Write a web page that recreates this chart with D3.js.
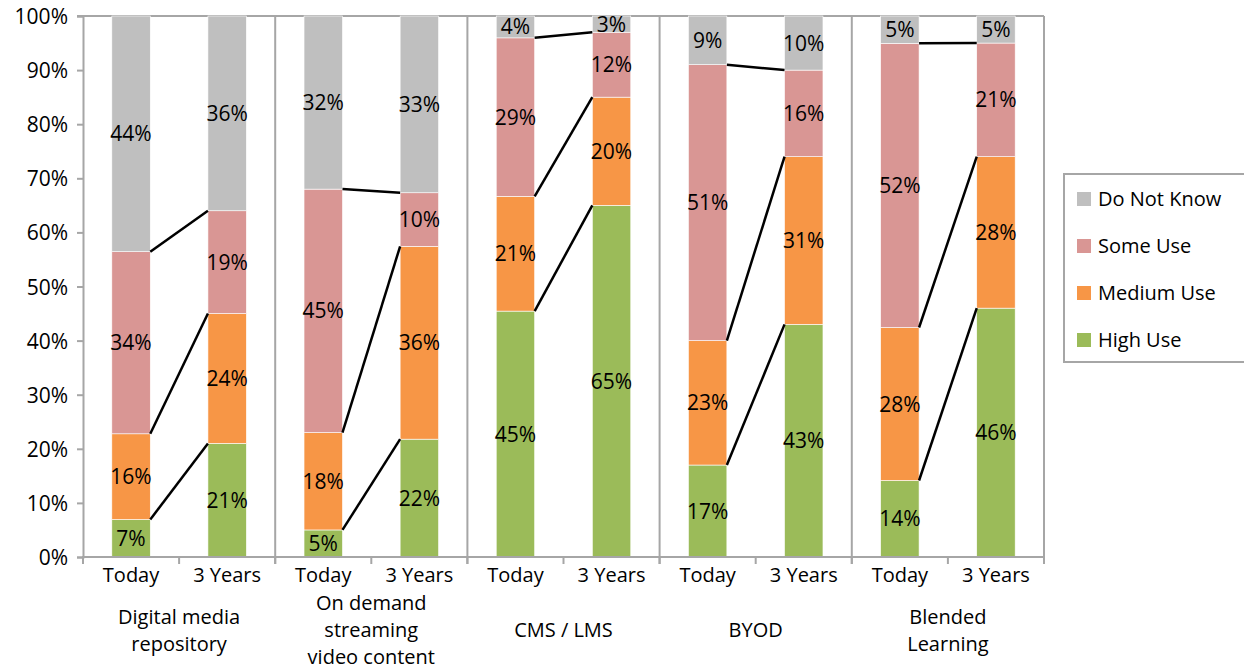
<!DOCTYPE html>
<html>
<head>
<meta charset="utf-8">
<script src="https://cdn.jsdelivr.net/npm/d3@7"></script>
<style>
  html, body { margin: 0; padding: 0; background: #fff; }
  svg { display: block; font-family: "Open Sans", Lato, sans-serif; }
</style>
</head>
<body>
<svg id="chart" width="1244" height="671"></svg>
<script>
// Technologies surveyed
const groups = [
  ["Digital media", "repository"],
  ["On demand", "streaming", "video content"],
  ["CMS / LMS"],
  ["BYOD"],
  ["Blended", "Learning"]
];
const periods = ["Today", "3 Years"];
const series = ["High Use", "Medium Use", "Some Use", "Do Not Know"];

// Percentages per bar, in group order, Today then 3 Years
const highUse    = [7, 21, 5, 22, 45, 65, 17, 43, 14, 46];
const mediumUse  = [16, 24, 18, 36, 21, 20, 23, 31, 28, 28];
const someUse    = [34, 19, 45, 10, 29, 12, 51, 16, 52, 21];
const doNotKnow  = [44, 36, 32, 33, 4, 3, 9, 10, 5, 5];

const yTicks = [0, 10, 20, 30, 40, 50, 60, 70, 80, 90, 100];

const colors = {
  "High Use": "#9BBB59",
  "Medium Use": "#F79646",
  "Some Use": "#D99694",
  "Do Not Know": "#BFBFBF"
};
const axisColor = "#A6A6A6";
const FS = 20;      // words
const FS_NUM = 21;  // percentages

const svg = d3.select("#chart");
const m = { left: 83, right: 1044, top: 16, bottom: 557 };

const groupIdx = d3.range(groups.length);
const x0 = d3.scaleBand().domain(groupIdx).range([m.left, m.right]).padding(0);
const x1 = d3.scaleBand().domain(periods).range([0, x0.bandwidth()]).padding(0);
const barW = x1.bandwidth() * 0.4;
const y = d3.scaleLinear().domain([0, 1]).range([m.bottom, m.top]);

// Build 100%-stacked bars
const rows = [highUse, mediumUse, someUse, doNotKnow];
const bars = [];
groupIdx.forEach(g => {
  periods.forEach((p, pi) => {
    const i = g * 2 + pi;
    const vals = rows.map(r => r[i]);
    const total = d3.sum(vals);
    let acc = 0;
    const segs = vals.map((v, si) => {
      const s = { series: series[si], value: v, y0: acc / total, y1: (acc + v) / total };
      acc += v;
      return s;
    });
    const cx = x0(g) + x1(p) + x1.bandwidth() / 2;
    bars.push({ g, p, cx, segs });
  });
});

// Frame: top line
svg.append("line")
  .attr("x1", m.left - 6).attr("x2", m.right)
  .attr("y1", y(1)).attr("y2", y(1))
  .attr("stroke", axisColor).attr("stroke-width", 2);

// Group dividers and right edge
groupIdx.slice(1).concat([groups.length]).forEach(g => {
  const xx = g < groups.length ? x0(g) : m.right;
  svg.append("line")
    .attr("x1", xx).attr("x2", xx)
    .attr("y1", m.top).attr("y2", m.bottom + 7)
    .attr("stroke", axisColor).attr("stroke-width", 2);
});

// Bars
const barG = svg.append("g");
bars.forEach(b => {
  barG.selectAll(null)
    .data(b.segs)
    .join("rect")
    .attr("x", b.cx - barW / 2)
    .attr("width", barW)
    .attr("y", d => y(d.y1))
    .attr("height", d => y(d.y0) - y(d.y1))
    .attr("fill", d => colors[d.series])
    .attr("stroke", "#fff")
    .attr("stroke-width", 0.6);
});

// Series lines linking Today and 3 Years tops
groupIdx.forEach(g => {
  const a = bars[g * 2], b = bars[g * 2 + 1];
  [0, 1, 2].forEach(si => {
    svg.append("line")
      .attr("x1", a.cx + barW / 2).attr("y1", y(a.segs[si].y1))
      .attr("x2", b.cx - barW / 2).attr("y2", y(b.segs[si].y1))
      .attr("stroke", "#000").attr("stroke-width", 2.5);
  });
});

// Segment labels
bars.forEach(b => {
  svg.selectAll(null)
    .data(b.segs)
    .join("text")
    .attr("x", b.cx)
    .attr("y", d => y((d.y0 + d.y1) / 2))
    .attr("dy", "0.36em")
    .attr("text-anchor", "middle")
    .attr("font-size", FS_NUM)
    .attr("fill", "#000")
    .text(d => d.value + "%");
});

// Y axis
const yAxis = d3.axisLeft(y)
  .tickValues(yTicks.map(t => t / 100))
  .tickFormat(d => Math.round(d * 100) + "%")
  .tickSize(6)
  .tickPadding(9);
const ya = svg.append("g").attr("transform", `translate(${m.left},0)`).call(yAxis);
ya.select(".domain").attr("stroke", axisColor).attr("stroke-width", 2);
ya.selectAll(".tick line").attr("stroke", axisColor).attr("stroke-width", 2);
ya.selectAll(".tick text").attr("font-size", FS_NUM).attr("fill", "#000")
  .attr("dy", "0.36em")
  .attr("font-family", "'Open Sans', Lato, sans-serif");

// X axis baseline and ticks
svg.append("line")
  .attr("x1", m.left - 1).attr("x2", m.right + 1)
  .attr("y1", m.bottom).attr("y2", m.bottom)
  .attr("stroke", axisColor).attr("stroke-width", 2);
const slotEdges = [];
groupIdx.forEach(g => periods.forEach(p => slotEdges.push(x0(g) + x1(p))));
slotEdges.push(m.right);
svg.selectAll(null).data(slotEdges).join("line")
  .attr("x1", d => d).attr("x2", d => d)
  .attr("y1", m.bottom).attr("y2", m.bottom + 7)
  .attr("stroke", axisColor).attr("stroke-width", 2);

// Period labels
bars.forEach(b => {
  svg.append("text")
    .attr("x", b.cx).attr("y", 575)
    .attr("dy", "0.36em")
    .attr("text-anchor", "middle")
    .attr("font-size", FS)
    .text(b.p);
});

// Group labels (multi-line, vertically centred)
groupIdx.forEach(g => {
  const lines = groups[g];
  const cx = x0(g) + x0.bandwidth() / 2;
  const lh = 27, mid = 630;
  lines.forEach((t, li) => {
    svg.append("text")
      .attr("x", cx)
      .attr("y", mid + (li - (lines.length - 1) / 2) * lh)
      .attr("dy", "0.36em")
      .attr("text-anchor", "middle")
      .attr("font-size", FS)
      .text(t);
  });
});

// Legend
const legend = svg.append("g");
legend.append("rect")
  .attr("x", 1064).attr("y", 174).attr("width", 184).attr("height", 188)
  .attr("fill", "#fff").attr("stroke", axisColor).attr("stroke-width", 2);
series.slice().reverse().forEach((s, i) => {
  const cy = 199 + i * 47;
  legend.append("rect")
    .attr("x", 1077).attr("y", cy - 7).attr("width", 14).attr("height", 14)
    .attr("fill", colors[s]);
  legend.append("text")
    .attr("x", 1098).attr("y", cy)
    .attr("dy", "0.36em")
    .attr("font-size", FS)
    .text(s);
});
</script>
</body>
</html>
